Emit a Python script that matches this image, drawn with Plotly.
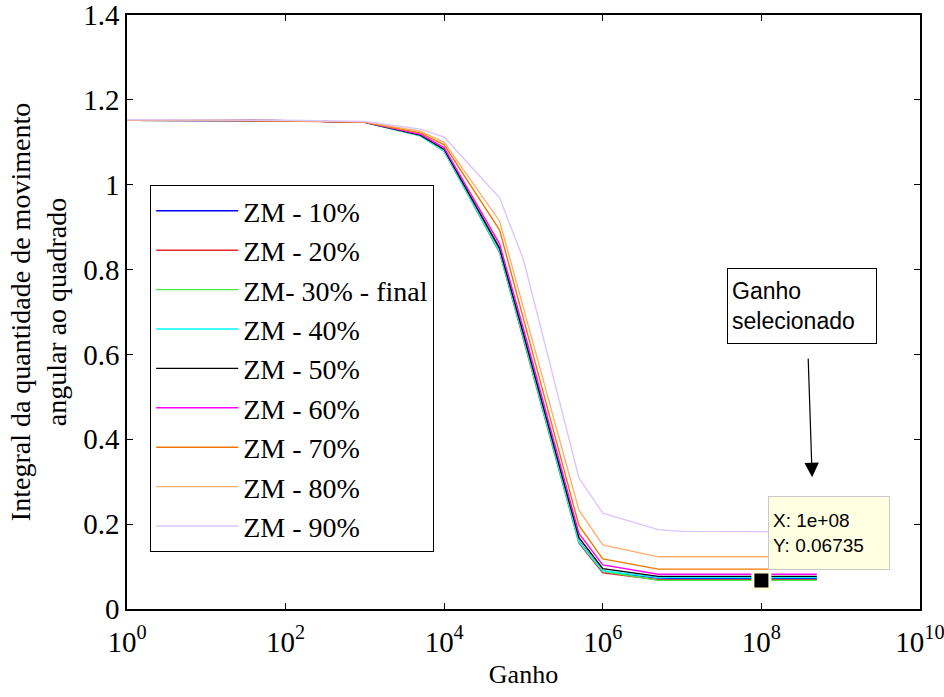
import plotly.graph_objects as go

# ---------------- data ----------------
ganho = [1, 10, 100, 1e3, 5e3, 1e4, 5e4, 1e5, 5e5, 1e6, 5e6, 1e7, 1e8, 5e8]

series_names = ["ZM - 10%", "ZM - 20%", "ZM- 30% - final", "ZM - 40%", "ZM - 50%",
                "ZM - 60%", "ZM - 70%", "ZM - 80%", "ZM - 90%"]

zm10 = [1.152, 1.152, 1.151, 1.147, 1.116, 1.080, 0.845, 0.640, 0.160, 0.089, 0.073, 0.072, 0.071, 0.072]
zm20 = [1.152, 1.152, 1.151, 1.147, 1.116, 1.079, 0.840, 0.635, 0.155, 0.085, 0.069, 0.069, 0.069, 0.069]
zm30 = [1.152, 1.152, 1.151, 1.147, 1.116, 1.080, 0.843, 0.640, 0.158, 0.089, 0.0674, 0.0674, 0.06735, 0.0674]
zm40 = [1.152, 1.152, 1.151, 1.147, 1.115, 1.079, 0.842, 0.640, 0.158, 0.090, 0.074, 0.074, 0.074, 0.074]
zm50 = [1.152, 1.152, 1.151, 1.147, 1.117, 1.083, 0.850, 0.648, 0.168, 0.095, 0.077, 0.077, 0.077, 0.077]
zm60 = [1.152, 1.152, 1.151, 1.147, 1.119, 1.087, 0.860, 0.660, 0.178, 0.104, 0.082, 0.082, 0.082, 0.082]
zm70 = [1.152, 1.152, 1.150, 1.147, 1.122, 1.094, 0.893, 0.684, 0.197, 0.118, 0.094, 0.094, 0.094, 0.094]
zm80 = [1.153, 1.153, 1.151, 1.148, 1.126, 1.100, 0.914, 0.710, 0.233, 0.151, 0.123, 0.123, 0.123, 0.123]
zm90 = [1.153, 1.153, 1.152, 1.149, 1.131, 1.112, 0.969, 0.823, 0.309, 0.226, 0.187, 0.183, 0.182, 0.182]

all_series = [zm10, zm20, zm30, zm40, zm50, zm60, zm70, zm80, zm90]
colors = ["#0000ff", "#e8262a", "#3df03d", "#00ffff", "#000000",
          "#ff00ff", "#f07800", "#ffb070", "#dcc4ff"]

sel_x = 1e8
sel_y = 0.06735

x_tickvals = [1, 1e2, 1e4, 1e6, 1e8, 1e10]
x_ticktext = ["10<sup>0</sup>", "10<sup>2</sup>", "10<sup>4</sup>", "10<sup>6</sup>",
              "10<sup>8</sup>", "10<sup>10</sup>"]
y_tickvals = [0, 0.2, 0.4, 0.6, 0.8, 1.0, 1.2, 1.4]
y_ticktext = ["0", "0.2", "0.4", "0.6", "0.8", "1", "1.2", "1.4"]

SERIF = "Liberation Serif, Times New Roman, serif"
SANS = "Liberation Sans, Arial, sans-serif"

fig = go.Figure()
for i, (name, ys, c) in enumerate(zip(series_names, all_series, colors)):
    fig.add_trace(go.Scatter(x=ganho, y=ys, mode="lines", name=name,
                             line=dict(color=c, width=1.4),
                             legendgroup="g%d" % i))

fig.add_trace(go.Scatter(x=[sel_x], y=[sel_y], mode="markers", showlegend=False,
                         marker=dict(symbol="square", size=17, color="black",
                                     line=dict(color="#ffffe0", width=3))))

axis_common = dict(showline=True, linecolor="black", linewidth=1.5, mirror="allticks",
                   ticks="inside", ticklen=6, tickcolor="black", showgrid=False,
                   zeroline=False, automargin=False, ticklabeloverflow="allow",
                   tickfont=dict(family=SERIF, size=29, color="black"))

fig.update_layout(
    template="none",
    width=944, height=697,
    paper_bgcolor="white", plot_bgcolor="white",
    margin=dict(l=127, r=24, t=15, b=88),
    font=dict(family=SERIF, color="black"),
    xaxis=dict(type="log", range=[0, 10], tickvals=x_tickvals, ticktext=x_ticktext,
               ticklabelstandoff=6,
               title=dict(text="Ganho", font=dict(family=SERIF, size=26), standoff=8),
               **axis_common),
    yaxis=dict(range=[0, 1.4], tickvals=y_tickvals, ticktext=y_ticktext,
               title=dict(text="Integral da quantidade de movimento<br>angular ao quadrado",
                          font=dict(family=SERIF, size=28), standoff=8),
               **axis_common),
    legend=dict(x=0.029, y=0.714, xanchor="left", yanchor="top",
                bgcolor="white", bordercolor="black", borderwidth=1.2,
                font=dict(family=SERIF, size=28, color="black"),
                itemwidth=82, tracegroupgap=0, traceorder="normal"),
    showlegend=True,
)

fig.add_annotation(xref="paper", yref="paper", x=0.7566, y=0.574, xanchor="left", yanchor="top",
                   text="Ganho<br>selecionado", showarrow=False, align="left",
                   font=dict(family=SANS, size=23, color="black"),
                   bgcolor="white", bordercolor="black", borderwidth=1, borderpad=4,
                   width=140, height=66)

fig.add_annotation(xref="paper", yref="paper", x=0.864, y=0.222, ax=-4, ay=-120,
                   text="", showarrow=True, arrowhead=2, arrowsize=2.4, arrowwidth=1.2,
                   arrowcolor="black")

fig.add_annotation(xref="paper", yref="paper", x=0.808, y=0.190, xanchor="left", yanchor="top",
                   text="X: 1e+08<br>Y: 0.06735", showarrow=False, align="left",
                   font=dict(family=SANS, size=19, color="black"),
                   bgcolor="#ffffe1", bordercolor="#c8c8c8", borderwidth=1, borderpad=4,
                   width=112, height=64)

fig.write_html("out.html")
